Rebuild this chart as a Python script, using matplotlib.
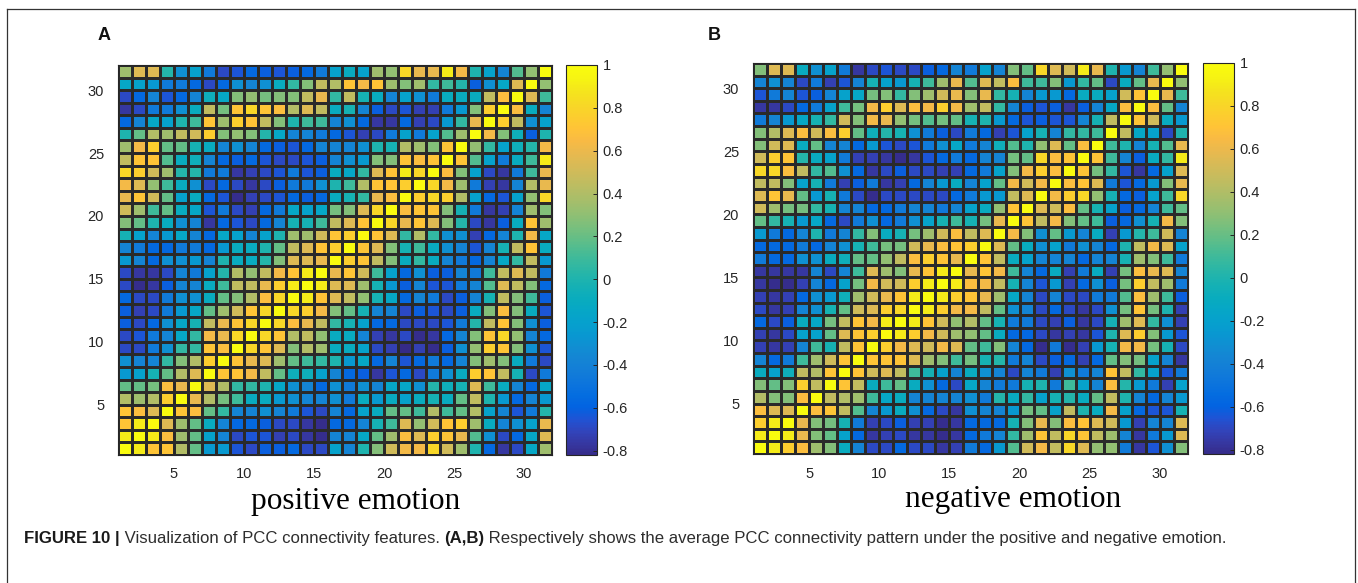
import numpy as np
import matplotlib
matplotlib.use("Agg")
import matplotlib.pyplot as plt
from matplotlib.colors import LinearSegmentedColormap
from matplotlib.lines import Line2D

W, H = 1358, 583

panel_a_levels = [
 [4,6,6,0,-4,-3,-5,-7,-6.5,-5.5,-6,-6.5,-6,-5.5,-5,-3, -2,-3,4,3.5,9,6.5,6.5,9.5,7,-0.5,-3,-4.5,1.5,3.5,10],
 [-2.5,-3,-3.5,-5,-5,-5.5,-7,-5.5,-4,-4.5,-4,-2,.5,3,5,4.5, 8,7,8,4,3,4,.5,1,0,-6,-4,-2.5,6,10,3.5],
 [-7,-5.5,-4.5,-6.5,-5.5,-4.5,-1.5,-2.5,3,3.5,2.5,3,3,5,6.5,.5, 5,-1,-2,-4.5,-3,-4,-5,-2,-2,-2,5,7.5,10,6,1],
 [-8,-7,-5,-5,-4,-2,5,2.5,8,9,8,7.5,4.5,6,5,-2, -1,-4.5,-6,-7,-6.5,-7.5,-7.5,-5,-3.5,3,8.5,10,7.5,-2,-4.5],
 [-5.5,-4.5,-2.5,-3,-.5,1,8,4,8.5,8,5,3,-.5,1,1,-4.5, -4,-5.5,-8,-8,-5.5,-7.5,-7,-3.5,.5,6.5,10,8.5,5,-4,-3],
 [-.5,2,4.5,4,5,5.5,8.5,3,3.5,3,0,-2.5,-4.5,-4.5,-5,-5.5, -6.5,-7.5,-7,-5,-3,-5,-3,1.5,4,10,7,3,-1.5,-6,-.5],
 [4,7,8.5,2,2,-1,-2,-4.5,-4,-4.5,-5.5,-6,-6.5,-5.5,-4.5,-4.5, -4.5,-4,-.5,-1,4.5,4,3,8,10,3.5,.5,-3,-1.5,0,7],
 [5,8,8,1.5,-2,-1.5,-4.5,-5.5,-6,-5.5,-6.5,-7,-7,-6.5,-6,-4.5, -4,-3.5,3,3,8,7.5,8,10,8,1.5,-3,-5,-2,1,9.5],
 [9,8.5,5.5,4,0,0,-5,-5,-8,-7.5,-7,-6.5,-5,-6.5,-6,-2, -2.5,.5,6,8,9.5,9,10,7.5,3,-3,-7,-8,-5,1,6.5],
 [7,6,3.5,1,-2,-4,-7,-5.5,-7,-8,-7,-6,-5,-5,-4,-.5, 1,4.5,8,8,8.5,10,9,7,4,-5,-7.5,-8,-4.5,4.5,6.5],
 [6.5,8,5.5,2,-3,-2,-5.5,-6.5,-8.5,-7.5,-7,-6.5,-5.5,-6,-5.5,-2, -1,.5,6.5,7.5,10,8.5,9,8.5,4.5,-3,-5.5,-6.5,-3,3.5,9],
 [5.5,4,1,2,-2,-2.5,-6.5,-5,-7,-7.5,-5.5,-5,-2.5,-3,-2.5,2.5, 3,6,9,10,7.5,8,8,3,-1,-5,-8,-7.5,-4.5,4,3],
 [3,2,-.5,-2,-4,-4.5,-8,-5.5,-6.5,-7,-5.5,-4.5,-1,-1,1,5, 6,8,10,9,6.5,8,6,3,0,-7,-8,-6,-2,8,4],
 [-1,-3,-4.5,-3.5,-2.5,-4.5,-5.5,-2.5,-3,-4.5,-3,-.5,4,4,5.5,8, 8.5,10,8,6,.5,4.5,.5,-4,-4,-7.5,-5.5,-4.5,-.5,7,-2.5],
 [-4.5,-5,-5.5,-5.5,-5,-5,-5.5,-3.5,-2,-2,-.5,2,5,6,8,8.5, 10,8,6,3,-1,1,-2,-4,-4.5,-6.5,-4.5,-1,5,8,-2],
 [-3.5,-4.5,-5.5,-4,-4,-3.5,-4.5,-.5,-2,-2,0,3,6,6,6.5,10, 8.5,8,5,3,-2,.5,-2,-4.5,-5,-5.5,-4.5,-2.5,.5,5,-3.5],
 [-7,-8,-8,-7,-4.5,-5,-3,0,4.5,3.5,5,7,8,9.5,10,6.5, 8,5.5,1,-3,-5.5,-4,-6,-6,-4.5,-5,1,5,6,5,-5],
 [-7,-8.5,-8,-6,-4.5,-4.5,-2,1,5,5,6.5,8.5,9.5,10,9.5,6, 6,4,-1,-3.5,-6,-4.5,-6.5,-6.5,-5,-4.5,1.5,6,5,3,-5.5],
 [-5.5,-7,-7,-5,-4,-4,-2,2,3,4.5,7.5,9,10,9.5,8,6, 5,3.5,-1,-2.5,-5.5,-4.5,-5,-7,-6,-4.5,-1,5,3,1,-6],
 [-6,-7.5,-7,-5,-3.5,-2.5,2,4,5.5,8,9,10,9,8.5,7,3, 2,-1,-4.5,-4.5,-7,-6,-6.5,-7,-6,-2,3,7.5,3,-2,-6.5],
 [-6,-7,-5.5,-4,-2.5,-1,5,6.5,8,9,10,9,7.5,6.5,5,.5, -1,-3,-5.5,-5.5,-7,-7,-7,-6.5,-5,0,5,8,3,-4,-6],
 [-7,-6.5,-5,-4.5,-2.5,.5,7,6.5,9,10,9,8,4.5,5,3.5,-2, -2,-4.5,-7.5,-8,-7,-8.5,-8,-5.5,-4.5,3,8,9,3.5,-4.5,-5.5],
 [-7,-7,-5,-4,.5,.5,8,7.5,10,9,8,6,3,4.5,4,-2, -2,-3,-7,-7.5,-9,-7.5,-8.5,-6,-4,3.5,8.5,8,3,-4,-6.5],
 [-4,-4.5,-4.5,.5,3,4.5,8.5,10,8,6.5,6,4,2,1,.5,-.5, -3.5,-2.5,-5.5,-4.5,-6.5,-5.5,-5,-5.5,-4.5,3,4,3,-2,-5,-7],
 [-3.5,-3,-1,2,4.5,6,10,8,8,7,5,2,-1.5,-1.5,-3,-4.5, -5.5,-6,-8,-6.5,-5.5,-7,-5,-4,-2,8.5,8,5,-1,-7,-5],
 [2,2,2.5,7.5,6.5,10,6,4.5,.5,.5,-.5,-2.5,-4,-4.5,-5.5,-4, -5,-4,-4.5,-2.5,-2.5,-4,0,-1.5,-1,6,1,-2,-4.5,-5.5,-2.5],
 [4.5,4,4.5,8.5,10,6.5,4.5,2.5,1,-2,-2,-3.5,-4,-4.5,-4.5,-4, -5,-2,-3.5,-2,-3,-2,-1,-2,2,5,-.5,-3.5,-5.5,-4.5,-3.5],
 [8,7.5,6,10,8,7.5,2,.5,-4.5,-4.5,-4,-4.5,-5,-6.5,-7,-4.5, -5.5,-3,-2,2,2,1,4.5,1,2,4.5,-3,-4.5,-6.5,-5,0],
 [8,9.5,10,6,4,2,-2,-4.5,-5.5,-5.5,-6,-7,-7,-8,-8.5,-5.5, -5.5,-4.5,-1,1,6,3.5,5.5,8,8.5,4,-2,-4.5,-4,-3,6.5],
 [9.5,10,9.5,7.5,4,2,-3,-4.5,-7,-6.5,-6.5,-7.5,-7,-8,-8.5,-4.5, -4.5,-2.5,2,4,7.5,6,8.5,8,6.5,1.5,-4,-7,-5.5,-2.5,6],
 [10,9.5,8,8,4.5,2,-3.5,-3.5,-6.5,-7,-6,-6,-5.5,-7,-7,-3, -4.5,-.5,3,5.5,7,7,9,5.5,4,-.5,-5.5,-8,-7,-2.5,4],
]

panel_b_levels = [
 [3,6,6,-2,-4,-3,-5,-8,-7,-6.5,-7,-7,-6,-5.5,-4.5,-5, -3,-4.5,3,2,9,6,5.5,9.5,6.5,-.5,-3.5,-4.5,1,3.5,10],
 [-4.5,-4,-4.5,-7,-5,-7.5,-6.5,-4.5,-1,-3,-3.5,-1,1,4,6.5,1.5, 6,5,7.5,1,1,3,-3.5,.5,2,-7,-2,2,6.5,10,3.5],
 [-6.5,-5,-4.5,-6.5,-6,-4.5,-3,-2.5,2.5,3,.5,3,4,5.5,6.5,3, 6.5,.5,-1,-4.5,-3.5,-3.5,-5.5,-2,-2,-3,5.5,8,10,6.5,1],
 [-8,-8,-7,-5.5,-5,-3,1,2.5,7,8.5,6,7.5,7,8.5,7,4, 5,.5,-4.5,-6,-6.5,-6,-8,-6,-4.5,-2.5,7.5,10,7.5,2,-4.5],
 [-5,-4.5,-3.5,-2.5,-1,.5,5.5,3,7,6.5,3.5,2.5,1.5,2.5,2,-1, -.5,-3.5,-5.5,-6.5,-6,-6.5,-6.5,-4.5,-1,5,10,8,5.5,-2,-3.5],
 [3,4.5,6,7.5,5.5,7.5,8.5,2,-1.5,0,-1,-4,-5,-6,-7,-5, -5.5,-7.5,-6.5,-3,-1,-4.5,.5,.5,1,10,5,-2.5,-3,-7,-.5],
 [3,5.5,6,-2,2,-4.5,-4.5,-5.5,-3.5,-6.5,-7,-6.5,-5,-4,-2.5,-5, -4.5,-1.5,1.5,-.5,3.5,6,2,7.5,10,1,-.5,-4.5,-1,1.5,6.5],
 [5.5,8.5,8,0,-2,-3,-5,-7.5,-7.5,-8,-8.5,-8,-6.5,-5.5,-5,-5.5, -4.5,-4.5,2.5,2,9,7.5,8,10,8,1,-4.5,-6,-2,.5,9.5],
 [9,9,7.5,5,.5,1.5,-4,-5.5,-8,-7,-6,-7,-7,-7.5,-7.5,-5.5, -5,-3,3,7,8.5,7.5,10,8,2.5,.5,-6.5,-8,-5.5,-3,6],
 [5,5,3,-3,-1,-5,-7.5,-6,-5,-8,-7.5,-5.5,-4.5,-3.5,-2,-4.5, -3,2,7,5.5,7,10,7.5,8,6,-5,-6.5,-5.5,-3.5,3,6.5],
 [6,8,6.5,2,-3.5,-1,-5,-7,-8.5,-7,-7,-7,-7,-7,-5.5,-5, -3.5,-3.5,5,6,10,7,8.5,9,3.5,-1,-5.5,-6,-3,1,9],
 [5.5,4,2.5,2.5,.5,-1,-4.5,-4.5,-5.5,-5.5,-5,-4.5,-4.5,-5,-4.5,-3, -2,3.5,8,10,6,5.5,7.5,2,-1,-3,-6,-5.5,-4.5,1,2],
 [2,.5,-1,-3.5,-2.5,-5.5,-7,-5,-4,-5.5,-5,-4,-3,-1,1,-1, 2.5,6.5,10,8,5,7,3,2,1,-6,-5.5,-4,-1,7,3],
 [-3.5,-5,-5.5,-4.5,-.5,-5,-4.5,.5,3,-2,-1,2.5,4,5.5,7.5,5, 6,10,7,3,-4,2,-3.5,-4.5,-2,-7.5,-3.5,0,1,5.5,-4.5],
 [-5.5,-5.5,-5.5,-5,-5.5,-4.5,-4,-1,1,2.5,2.5,5.5,6.5,7.5,8,8.5, 10,6,2,-2,-4,-3,-5,-4,-4.5,-5.5,-.5,5,7,6,-3],
 [-5,-5.5,-5.5,-4,-4,-2,-1.5,2,2,3.5,5,7.5,8.5,8,6.5,10, 8,5,-2,-3,-4.5,-4.5,-4.5,-5.5,-4.5,-4.5,-1,4,3,1,-5],
 [-8,-8,-8,-8,-4.5,-7,-4.5,1,6,4,3,6.5,8,9.5,10,6.5, 8,7,1,-4.5,-5.5,-2,-7.5,-5,-2,-7.5,2.5,7.5,6.5,6,-4.5],
 [-8,-8.5,-8.5,-7.5,-4.5,-5.5,-3,2.5,7,5.5,5.5,8.5,9.5,10,9.5,7.5, 7,5,-1,-4.5,-6.5,-3.5,-7.5,-5.5,-4,-6,2.5,8.5,5,4,-5],
 [-7.5,-8,-7.5,-5.5,-4,-3.5,-1.5,4,5.5,6.5,8,9.5,10,9.5,8.5,8, 6.5,4,-2.5,-4.5,-7,-4.5,-7,-7,-5,-5,1.5,7.5,4,1,-6],
 [-7,-8,-7.5,-4.5,-4,-1,2,5.5,6,8.5,9,10,9.5,8.5,7,7, 5,2,-4,-4.5,-7,-5.5,-7,-8,-7,-4,2.5,8,2.5,-.5,-7.5],
 [-5.5,-7,-6,-2,-2.5,2.5,5,8,7,9.5,10,9.5,8,5.5,3.5,4.5, 2,-1,-5,-5,-7,-7.5,-6,-8,-7,-1,4,6,.5,-4,-7.5],
 [-7.5,-8,-7,-3,-3,2,6,8,8.5,10,9.5,8.5,7,5.5,4,3.5, 2,-2,-5.5,-5.5,-7,-8,-7.5,-8,-6.5,-.5,6,8.5,3,-3.5,-6.5],
 [-7.5,-8,-7.5,-4.5,1,-1,5,8,10,8.5,7,6,5.5,7,6,2, 1,3,-4.5,-5.5,-8.5,-5,-8.5,-7.5,-3.5,-1,7,7,2.5,-1,-7],
 [-4.5,-5.5,-5,1,4,5.5,8,10,8,8,8,6,4,3,1,2.5, -1,0,-5,-4.5,-7,-6,-5.5,-7.5,-5.5,2,3,2.5,-3,-4.5,-8],
 [-2,-3,-1.5,5,4.5,8,10,8,5.5,6,5,1,-1,-3,-4.5,-2, -4,-4.5,-7,-4.5,-5,-7.5,-4,-5,-4.5,8,5,.5,-3,-6.5,-5],
 [3,2,3,8.5,5,10,8,5,-2,1,2,-2,-4,-5.5,-7,-2.5, -4.5,-5,-5,-1,-.5,-5,1,-3,-4.5,7.5,0,-3.5,-5,-7.5,-3],
 [4.5,3,3,7.5,10,5,4.5,4,1,-2.5,-2,-4.5,-4.5,-4.5,-4.5,-4, -5,0,-2,.5,-3,-1,0,-2,2,5,-.5,-4.5,-5.5,-4.5,-3.5],
 [7.5,6,6,10,7.5,8,5,1.5,-4.5,-3.5,-2,-4,-5.5,-7,-8,-4, -4.5,-4.5,-3.5,2.5,2,-3,5,-.5,-2,7,-3,-5.5,-6.5,-6.5,-1],
 [8.5,9.5,10,6.5,3,2.5,-1,-5,-7.5,-7,-6,-7.5,-7.5,-8.5,-8,-5.5, -5.5,-5.5,-1,3,6.5,3,7.5,8,6,5.5,-3.5,-7.5,-4.5,-4.5,6],
 [9.5,10,9.5,6.5,3,2,-3,-5.5,-8,-7.5,-7,-8,-8,-8.5,-8,-5.5, -5,-4.5,.5,4,8,5,9,8,5,4,-4.5,-8,-5,-3.5,6],
 [10,9.5,8.5,7.5,4,3,-2,-4.5,-7,-7,-5.5,-7,-7,-8,-7.5,-5, -5.5,-3.5,1.5,5.5,7,5,9,6,3.5,3.5,-5,-8,-6.5,-4,3],
]

# Colour class -> value
level_key = [-9, -8.5, -8, -7.5, -7, -6.5, -6, -5.5, -5, -4, -3, -2, -1, 0, 1, 2, 3, 4, 5, 6, 7, 8, 9, 10]
level_val = [-.82, -.80, -.76, -.72, -.68, -.64, -.60, -.55, -.44, -.30, -.18, -.09, -.02, .03, .11, .20, .28, .36, .46, .56, .64, .72, .82, 1.0]

grid_edges = np.arange(1, 33)
axis_ticks = [5, 10, 15, 20, 25, 30]
cbar_ticks = [-0.8, -0.6, -0.4, -0.2, 0, 0.2, 0.4, 0.6, 0.8, 1]
cbar_labels = ["-0.8", "-0.6", "-0.4", "-0.2", "0", "0.2", "0.4", "0.6", "0.8", "1"]
panel_titles = ["positive emotion", "negative emotion"]
panel_letters = ["A", "B"]
caption_parts = [
    ("FIGURE 10 |", True), (" Visualization of PCC connectivity features. ", False), ("(A,B)", True),
    (" Respectively shows the average PCC connectivity pattern under the positive and negative emotion.", False),
]

parula_rgb = [
 (.2081,.1663,.5292),(.2123,.2138,.6270),(.1959,.2645,.7279),(.1253,.3242,.8303),(.0117,.3875,.8820),
 (.0165,.4266,.8786),(.0498,.4586,.8641),(.0723,.4887,.8467),(.0793,.5200,.8312),(.0641,.5570,.8240),
 (.0343,.5966,.8199),(.0239,.6287,.8038),(.0228,.6535,.7768),(.0384,.6743,.7436),(.0843,.6928,.7062),
 (.1453,.7098,.6646),(.2178,.7250,.6193),(.3022,.7376,.5712),(.3953,.7459,.5244),(.4871,.7491,.4840),
 (.5709,.7485,.4494),(.6473,.7456,.4188),(.7184,.7411,.3905),(.7858,.7356,.3633),(.8507,.7299,.3360),
 (.9139,.7258,.3063),(.9739,.7314,.2666),(.9990,.7653,.2164),(.9880,.8066,.1794),(.9697,.8481,.1475),
 (.9589,.8949,.1132),(.9661,.9514,.0755),(.9763,.9831,.0538)]
parula = LinearSegmentedColormap.from_list("parula", parula_rgb, N=256)

plt.rcParams["font.family"] = ["Liberation Sans", "DejaVu Sans"]
fig = plt.figure(figsize=(W / 100, H / 100), dpi=100, facecolor="white")


def box(x0, y0, x1, y1):
    return [x0 / W, 1 - y1 / H, (x1 - x0) / W, (y1 - y0) / H]


panels = [
    (panel_a_levels, (118, 65, 552, 455), (566, 65, 597, 455), 104, 356, 501),
    (panel_b_levels, (753, 63, 1188, 454), (1203, 63, 1234, 454), 714, 1013, 500),
]
for i, (levels, ax_px, cb_px, lx, tx, ty) in enumerate(panels):
    vals = np.interp(np.array(levels)[::-1], level_key, level_val)
    ax = fig.add_axes(box(*ax_px))
    mesh = ax.pcolormesh(grid_edges, grid_edges, vals, cmap=parula, vmin=-.82, vmax=1.0,
                         edgecolors="#2a2a2a", linewidth=0.75)
    ax.set_xlim(1, 32)
    ax.set_ylim(1, 32)
    ax.set_xticks(axis_ticks)
    ax.set_yticks(axis_ticks)
    ax.tick_params(direction="in", length=3, width=0.7, labelsize=10.5, colors="#262626", pad=9)
    ax.tick_params(axis="y", pad=10)
    for s in ax.spines.values():
        s.set_linewidth(0.8)
        s.set_color("#262626")
    cax = fig.add_axes(box(*cb_px))
    cb = fig.colorbar(mesh, cax=cax)
    cb.solids.set_edgecolor("face")
    cb.set_ticks(cbar_ticks, labels=cbar_labels)
    cb.ax.tick_params(direction="in", length=3, width=0.7, labelsize=10.5, colors="#262626", pad=4)
    cb.outline.set_linewidth(0.8)
    cb.outline.set_edgecolor("#262626")
    fig.text(lx / W, 1 - 35 / H, panel_letters[i], fontsize=13, fontweight="bold", color="#111111",
             ha="center", va="center")
    fig.text(tx / W, 1 - ty / H, panel_titles[i], fontsize=22.5, family=["Liberation Serif"],
             color="black", ha="center", va="center")

# frame
for xs, ys in [((7, 7), (583, 9)), ((7, 1355), (9, 9)), ((1355, 1355), (9, 583))]:
    fig.add_artist(Line2D([x / W for x in xs], [1 - y / H for y in ys], color="#333333", lw=0.9))

# caption
x = 24.0
r = fig.canvas.get_renderer()
for part, bold in caption_parts:
    t = fig.text(x / W, 1 - 538 / H, part.rstrip() if False else part, fontsize=12.05,
                 fontweight="bold" if bold else "normal", color="#2e2e2e" if not bold else "#1a1a1a",
                 ha="left", va="center")
    # trailing spaces are measured by drawing a marker-terminated copy
    probe = fig.text(0, 0, part + "|", fontsize=12.05, fontweight="bold" if bold else "normal")
    bar = fig.text(0, 0, "|", fontsize=12.05, fontweight="bold" if bold else "normal")
    x += probe.get_window_extent(r).width - bar.get_window_extent(r).width
    probe.remove()
    bar.remove()

fig.savefig("out.png", dpi=100, facecolor="white")
